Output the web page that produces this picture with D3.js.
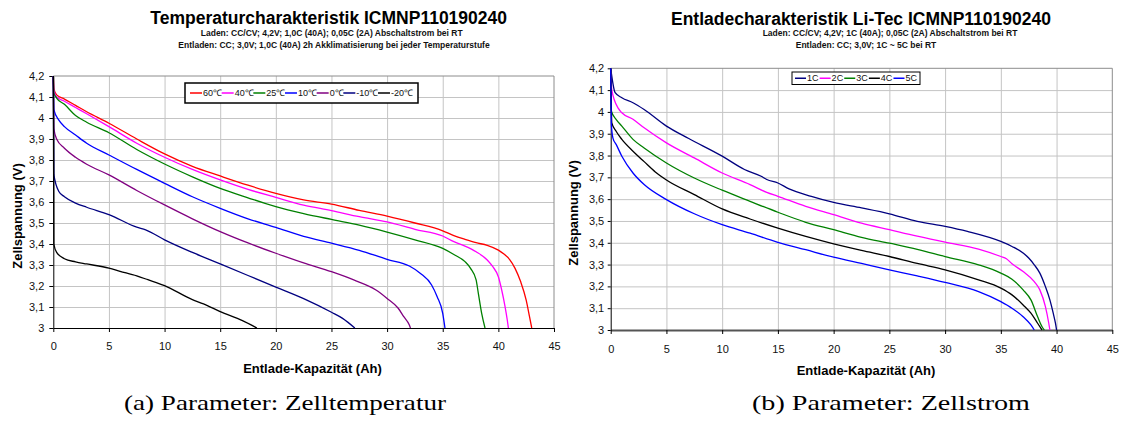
<!DOCTYPE html>
<html>
<head>
<meta charset="utf-8">
<script src="https://cdn.jsdelivr.net/npm/d3@7"></script>
<style>
  body { margin: 0; background: #fff; }
  text { font-family: "Liberation Sans", Arial, sans-serif; }
</style>
</head>
<body>
<svg id="chart" width="1124" height="423"></svg>
<script>
// ---- tick values (shared by both panels)
const xTicks = [0, 5, 10, 15, 20, 25, 30, 35, 40, 45];
const yTicks = [3, 3.1, 3.2, 3.3, 3.4, 3.5, 3.6, 3.7, 3.8, 3.9, 4, 4.1, 4.2];

// ---- panel (a): discharge at different cell temperatures, [Ah, V]
const tempNames = ["60℃", "40℃", "25℃", "10℃", "0℃", "-10℃", "-20℃"];
const t60 = [[0,4.2],[0.05,4.14],[0.3,4.11],[1,4.09],[2,4.06],[3,4.03],[5,3.975],[7.5,3.9],[10,3.829],[12.5,3.77],[15,3.724],[17.5,3.68],[20,3.641],[22.5,3.61],[25,3.59],[27.5,3.56],[30,3.533],[32.5,3.5],[35,3.463],[36,3.44],[37,3.422],[38,3.406],[39,3.394],[40,3.371],[40.5,3.352],[41,3.327],[41.5,3.284],[42,3.221],[42.5,3.133],[42.8,3.054],[43,3.0]];
const t40 = [[0,4.2],[0.05,4.13],[0.3,4.1],[1,4.08],[2,4.05],[3,4.02],[5,3.959],[7.5,3.88],[10,3.813],[12.5,3.755],[15,3.705],[17.5,3.66],[20,3.622],[22.5,3.585],[25,3.559],[27.5,3.53],[30,3.505],[32.5,3.47],[35,3.438],[36,3.411],[37,3.39],[38,3.363],[39,3.324],[39.5,3.292],[40,3.244],[40.3,3.181],[40.6,3.102],[40.8,3.038],[40.9,3.0]];
const t25 = [[0,4.2],[0.05,4.12],[0.3,4.095],[1,4.065],[2,4.012],[3,3.98],[5,3.93],[7.5,3.85],[10,3.781],[12.5,3.72],[15,3.665],[17.5,3.62],[20,3.578],[22.5,3.545],[25,3.517],[27.5,3.49],[30,3.457],[32.5,3.42],[35,3.379],[36,3.35],[37,3.316],[37.5,3.284],[38,3.229],[38.2,3.165],[38.5,3.07],[38.8,3.0]];
const t10 = [[0,4.2],[0.05,4.04],[0.5,3.99],[1,3.959],[2,3.919],[3,3.88],[5,3.824],[7.5,3.755],[10,3.689],[12.5,3.625],[15,3.57],[17.5,3.52],[20,3.479],[22.5,3.436],[25,3.404],[27.5,3.37],[30,3.327],[32,3.295],[33,3.26],[34,3.205],[34.5,3.149],[35,3.07],[35.2,3.0]];
const t0 = [[0,4.2],[0.05,3.95],[0.3,3.9],[1,3.856],[2,3.813],[3,3.78],[5,3.729],[7.5,3.655],[10,3.586],[12.5,3.52],[15,3.459],[17.5,3.405],[20,3.356],[22.5,3.31],[25,3.268],[27,3.229],[29,3.181],[30,3.141],[31,3.094],[31.5,3.054],[32,3.014],[32.1,3.0]];
const tm10 = [[0,4.2],[0.05,3.73],[0.5,3.65],[1,3.625],[2,3.595],[3,3.575],[5,3.54],[7.5,3.48],[8.3,3.467],[10,3.42],[12.5,3.36],[15,3.305],[17.5,3.25],[20,3.195],[22.5,3.14],[25,3.075],[26,3.046],[27.1,3.0]];
const tm20 = [[0,4.2],[0.05,3.4],[0.3,3.36],[1,3.33],[2,3.315],[3,3.305],[5,3.285],[6,3.27],[7.5,3.248],[8.5,3.23],[10,3.202],[12.5,3.135],[13.5,3.115],[15,3.078],[17,3.035],[18.3,3.0]];
const tempColors = ["#ff0000", "#ff00ff", "#008000", "#0000ff", "#800080", "#000080", "#000000"];

// ---- panel (b): discharge at different C-rates, [Ah, V]
const rateNames = ["1C", "2C", "3C", "4C", "5C"];
const c1 = [[0,4.2],[0.4,4.088],[1,4.065],[2,4.042],[3,4.011],[5,3.935],[7,3.878],[10,3.797],[12,3.736],[13.5,3.705],[14,3.69],[15,3.674],[16,3.647],[18,3.613],[20,3.585],[22.5,3.56],[25,3.533],[27.5,3.498],[30,3.475],[32,3.452],[35,3.406],[36,3.383],[37,3.353],[37.5,3.33],[38,3.299],[38.5,3.261],[39,3.199],[39.4,3.138],[39.7,3.077],[39.9,3.031],[40,3.0]];
const c2 = [[0,4.2],[0.1,4.1],[0.7,4.015],[1,3.996],[2,3.966],[3,3.927],[5,3.858],[7.5,3.789],[10,3.72],[12.5,3.667],[14,3.631],[15,3.613],[17.5,3.567],[20,3.529],[22.5,3.49],[25,3.46],[27.5,3.43],[30,3.403],[33,3.371],[35,3.337],[35.5,3.327],[36,3.304],[37,3.268],[38,3.222],[38.5,3.184],[39,3.107],[39.3,3.031],[39.4,3.0]];
const c3 = [[0,4.2],[0.05,4.004],[0.5,3.965],[1,3.935],[2,3.874],[3,3.835],[5,3.766],[7.5,3.697],[10,3.641],[12.5,3.59],[15,3.54],[17.5,3.494],[20,3.46],[22.5,3.425],[25,3.398],[27.5,3.37],[30,3.337],[33,3.299],[35,3.261],[36,3.233],[37,3.184],[37.7,3.138],[38.3,3.061],[38.7,3.015],[38.9,3.0]];
const c4 = [[0,4.2],[0.1,3.95],[0.5,3.91],[1,3.874],[2,3.82],[3,3.772],[4,3.725],[5,3.688],[7.5,3.621],[10,3.555],[12.5,3.509],[15,3.467],[17.5,3.429],[20,3.395],[22.5,3.365],[25,3.337],[27.5,3.305],[30,3.276],[33,3.23],[35,3.192],[36,3.161],[37,3.115],[37.7,3.077],[38.3,3.031],[38.7,3.0]];
const c5 = [[0,4.2],[0.05,3.95],[0.2,3.88],[0.5,3.85],[1,3.797],[2,3.72],[3,3.667],[5,3.598],[7.5,3.533],[10,3.483],[12.5,3.444],[15,3.402],[17.5,3.368],[20,3.334],[22.5,3.305],[25,3.276],[27.5,3.248],[30,3.218],[33,3.176],[35,3.13],[36,3.1],[37,3.061],[37.7,3.023],[38,3.0]];
const rateColors = ["#000080", "#ff00ff", "#008000", "#000000", "#0000ff"];

const svg = d3.select("#chart");
svg.append("rect").attr("width", 1124).attr("height", 423).attr("fill", "#fff");

const fmtY = d => String(+d.toFixed(1)).replace(".", ",");

function drawPanel(p) {
  const g = svg.append("g");
  const x = d3.scaleLinear().domain([0, 45]).range([p.left, p.right]);
  const y = d3.scaleLinear().domain([3, 4.2]).range([p.bottom, p.top]);

  // grid
  g.append("g")
    .attr("transform", `translate(0,${p.bottom})`)
    .call(d3.axisBottom(x).tickValues(xTicks.slice(1, -1)).tickSize(-(p.bottom - p.top)).tickFormat(""))
    .call(a => a.select(".domain").remove())
    .call(a => a.selectAll("line").attr("stroke", "#c4c4c4"));
  g.append("g")
    .attr("transform", `translate(${p.left},0)`)
    .call(d3.axisLeft(y).tickValues(yTicks.slice(1, -1)).tickSize(-(p.right - p.left)).tickFormat(""))
    .call(a => a.select(".domain").remove())
    .call(a => a.selectAll("line").attr("stroke", "#c4c4c4"));

  // plot frame (top / right)
  g.append("path")
    .attr("d", `M${p.left},${p.top}H${p.right}V${p.bottom}`)
    .attr("fill", "none").attr("stroke", "#8c8c8c");

  // axes
  g.append("g")
    .attr("transform", `translate(0,${p.bottom})`)
    .call(d3.axisBottom(x).tickValues(xTicks).tickSize(4).tickSizeOuter(0).tickPadding(p.xPad))
    .call(a => a.select(".domain").attr("stroke", p.xAxisColor).attr("stroke-width", p.xAxisWidth))
    .call(a => a.selectAll("text").attr("font-size", 11).attr("fill", "#111"));
  g.append("g")
    .attr("transform", `translate(${p.left},0)`)
    .call(d3.axisLeft(y).tickValues(yTicks).tickFormat(fmtY).tickSize(p.yTick).tickSizeOuter(0).tickPadding(p.yPad))
    .call(a => a.select(".domain").attr("stroke", "#000"))
    .call(a => a.selectAll("text").attr("font-size", 11).attr("fill", "#111"));

  // series
  const line = d3.line().x(d => x(d[0])).y(d => y(d[1])).curve(d3.curveMonotoneX);
  p.series.forEach((s, i) => {
    g.append("path")
      .datum(s)
      .attr("d", line)
      .attr("fill", "none")
      .attr("stroke", p.colors[i])
      .attr("stroke-width", 1.3);
  });

  // titles
  g.append("text").attr("x", p.titleX).attr("y", p.titleY)
    .attr("text-anchor", "middle").attr("font-size", 17.5).attr("font-weight", "bold")
    .text(p.title);
  p.subtitles.forEach((t, i) => {
    g.append("text").attr("x", p.subX[i]).attr("y", p.subY[i])
      .attr("text-anchor", "middle").attr("font-size", 8.5).attr("font-weight", "bold")
      .attr("fill", "#111")
      .text(t);
  });
  g.append("text").attr("x", p.xTitleX).attr("y", p.xTitleY)
    .attr("text-anchor", "middle").attr("font-size", 13).attr("font-weight", "bold")
    .text("Entlade-Kapazität (Ah)");
  g.append("text")
    .attr("transform", `translate(${p.yTitleX},${p.yTitleY}) rotate(-90)`)
    .attr("text-anchor", "middle").attr("font-size", 13).attr("font-weight", "bold")
    .text("Zellspannung (V)");

  // legend
  const L = p.legend;
  const lg = g.append("g");
  lg.append("rect").attr("x", L.x).attr("y", L.y).attr("width", L.w).attr("height", L.h)
    .attr("fill", "#fff").attr("stroke", "#000").attr("stroke-width", L.stroke);
  const items = p.names.map((n, i) => {
    const it = lg.append("g");
    it.append("line").attr("x1", 0).attr("x2", L.line).attr("y1", 0).attr("y2", 0)
      .attr("stroke", p.colors[i]).attr("stroke-width", 1.5);
    const t = it.append("text").attr("x", L.line + 1).attr("y", 0).attr("dy", "0.35em")
      .attr("font-size", 9).attr("fill", "#111").text(n);
    return { it, w: L.line + 1 + t.node().getComputedTextLength() };
  });
  const total = d3.sum(items, d => d.w);
  const gap = (L.w - 2 * L.pad - total) / (items.length - 1);
  let cx = L.x + L.pad;
  items.forEach(d => {
    d.it.attr("transform", `translate(${cx},${L.y + L.h / 2})`);
    cx += d.w + gap;
  });

  // caption
  svg.append("text").attr("x", p.capX).attr("y", 410)
    .attr("text-anchor", "middle")
    .style("font-family", "'Liberation Serif', 'Times New Roman', serif")
    .attr("font-size", 21)
    .attr("textLength", p.capLen).attr("lengthAdjust", "spacingAndGlyphs")
    .text(p.caption);
}

drawPanel({
  left: 53.3, right: 554, top: 76, bottom: 328,
  xPad: 10, yTick: 4, yPad: 5, xAxisColor: "#000", xAxisWidth: 1,
  series: [t60, t40, t25, t10, t0, tm10, tm20], colors: tempColors, names: tempNames,
  title: "Temperaturcharakteristik ICMNP110190240", titleX: 328.7, titleY: 24,
  subtitles: ["Laden: CC/CV; 4,2V; 1,0C (40A); 0,05C (2A) Abschaltstrom bei RT",
              "Entladen: CC; 3,0V; 1,0C (40A) 2h Akklimatisierung bei jeder Temperaturstufe"],
  subX: [331.7, 334], subY: [36, 48],
  xTitleX: 312.5, xTitleY: 372.7, yTitleX: 21.5, yTitleY: 216,
  legend: { x: 185, y: 83, w: 233, h: 20, pad: 5, line: 12, stroke: 1.5 },
  caption: "(a) Parameter: Zelltemperatur", capX: 285, capLen: 322
});

drawPanel({
  left: 610.7, right: 1112.3, top: 68.3, bottom: 330,
  xPad: 11, yTick: 3, yPad: 3.5, xAxisColor: "#555", xAxisWidth: 2,
  series: [c1, c2, c3, c4, c5], colors: rateColors, names: rateNames,
  title: "Entladecharakteristik Li-Tec ICMNP110190240", titleX: 861, titleY: 25,
  subtitles: ["Laden: CC/CV; 4,2V; 1C (40A); 0,05C (2A) Abschaltstrom bei RT",
              "Entladen: CC; 3,0V; 1C ~ 5C bei RT"],
  subX: [890, 866], subY: [36, 48],
  xTitleX: 866, xTitleY: 375, yTitleX: 578, yTitleY: 213,
  legend: { x: 792, y: 72, w: 128, h: 12.5, pad: 3, line: 11, stroke: 1 },
  caption: "(b) Parameter: Zellstrom", capX: 891, capLen: 278
});
</script>
</body>
</html>
